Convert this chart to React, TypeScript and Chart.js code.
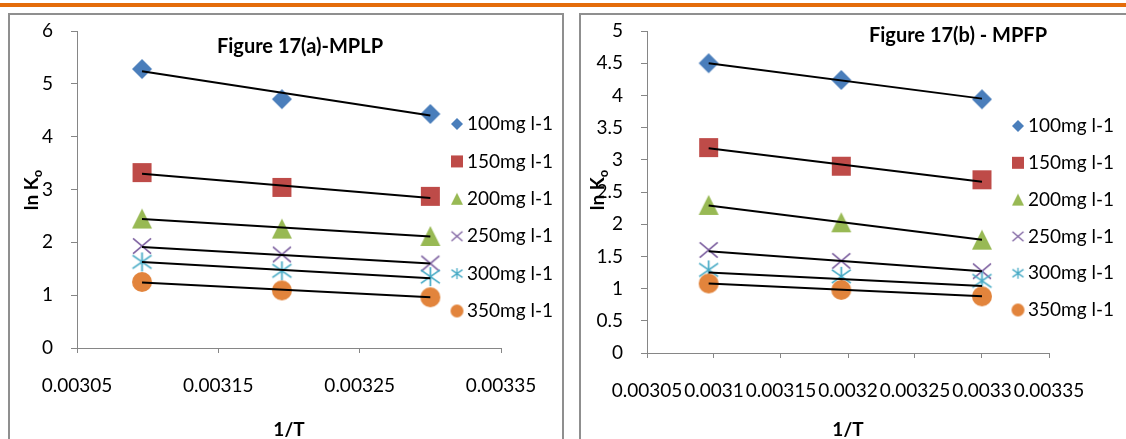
import React, { useEffect, useRef } from 'react';
import { Chart, registerables } from 'chart.js';

Chart.register(...registerables);

const FONT = 'Lato, "Open Sans", sans-serif';

// ---------- data ----------
const seriesNames = ['100mg l-1', '150mg l-1', '200mg l-1', '250mg l-1', '300mg l-1', '350mg l-1'];
const invT = [0.003096, 0.003195, 0.0033];

// Figure 17(a) - MPLP
const mplp100 = [5.28, 4.71, 4.43];
const mplp150 = [3.32, 3.04, 2.87];
const mplp200 = [2.45, 2.26, 2.12];
const mplp250 = [1.93, 1.77, 1.6];
const mplp300 = [1.63, 1.46, 1.35];
const mplp350 = [1.25, 1.09, 0.96];
const mplpTrendStart = [5.24, 3.3, 2.44, 1.91, 1.63, 1.24];
const mplpTrendEnd = [4.4, 2.84, 2.11, 1.6, 1.32, 0.96];

// Figure 17(b) - MPFP
const mpfp100 = [4.5, 4.24, 3.94];
const mpfp150 = [3.19, 2.9, 2.69];
const mpfp200 = [2.3, 2.03, 1.76];
const mpfp250 = [1.6, 1.43, 1.27];
const mpfp300 = [1.29, 1.19, 1.12];
const mpfp350 = [1.08, 0.98, 0.88];
const mpfpTrendStart = [4.5, 3.18, 2.29, 1.58, 1.25, 1.08];
const mpfpTrendEnd = [3.95, 2.66, 1.76, 1.27, 1.04, 0.88];

const xTicksA = [0.00305, 0.00315, 0.00325, 0.00335];
const xLabelsA = ['0.00305', '0.00315', '0.00325', '0.00335'];
const yTicksA = [0, 1, 2, 3, 4, 5, 6];
const yLabelsA = ['0', '1', '2', '3', '4', '5', '6'];

const xTicksB = [0.00305, 0.0031, 0.00315, 0.0032, 0.00325, 0.0033, 0.00335];
const xLabelsB = ['0.00305', '0.0031', '0.00315', '0.0032', '0.00325', '0.0033', '0.00335'];
const yTicksB = [0, 0.5, 1, 1.5, 2, 2.5, 3, 3.5, 4, 4.5, 5];
const yLabelsB = ['0', '0.5', '1', '1.5', '2', '2.5', '3', '3.5', '4', '4.5', '5'];

// ---------- styles ----------
const KINDS = ['diamond', 'square', 'triangle', 'cross', 'star', 'circle'];
const COLORS = ['#4A7EBB', '#BE4B48', '#98B954', '#7D60A0', '#46AAC5', '#E2843C'];
const SIZES = [20, 19, 20, 18, 19, 20];
const LSIZES = [12, 12, 12, 11, 11, 13];
const TICK_SIZE = 19;

function makeMarker(kind: string, size: number, color: string): HTMLCanvasElement {
  const pad = 2;
  const s = Math.ceil(size + pad * 2);
  const c = document.createElement('canvas');
  c.width = s;
  c.height = s;
  const g = c.getContext('2d')!;
  const m = s / 2;
  const h = size / 2;
  g.fillStyle = color;
  g.strokeStyle = color;
  g.lineWidth = Math.max(1.3, size / 11);
  g.lineCap = 'butt';
  g.beginPath();
  switch (kind) {
    case 'diamond':
      g.moveTo(m, m - h);
      g.lineTo(m + h, m);
      g.lineTo(m, m + h);
      g.lineTo(m - h, m);
      g.closePath();
      g.fill();
      break;
    case 'square':
      g.fillRect(m - h, m - h, size, size);
      break;
    case 'triangle':
      g.moveTo(m, m - h);
      g.lineTo(m + h, m + h);
      g.lineTo(m - h, m + h);
      g.closePath();
      g.fill();
      break;
    case 'cross':
      g.moveTo(m - h, m - h * 0.85);
      g.lineTo(m + h, m + h * 0.85);
      g.moveTo(m + h, m - h * 0.85);
      g.lineTo(m - h, m + h * 0.85);
      g.stroke();
      break;
    case 'star':
      g.moveTo(m - h, m - h * 0.7);
      g.lineTo(m + h, m + h * 0.7);
      g.moveTo(m + h, m - h * 0.7);
      g.lineTo(m - h, m + h * 0.7);
      g.moveTo(m, m - h);
      g.lineTo(m, m + h);
      g.stroke();
      break;
    case 'circle':
      g.arc(m, m, h, 0, Math.PI * 2);
      g.fill();
      break;
  }
  return c;
}

type PanelProps = {
  left: number;
  width: number;
  area: { left: number; right: number; top: number; bottom: number };
  xTicks: number[];
  xLabels: string[];
  yTicks: number[];
  yLabels: string[];
  series: number[][];
  trendStart: number[];
  trendEnd: number[];
  title: string;
  titlePos: [number, number];
  xTitlePos: [number, number];
  yTitlePos: [number, number];
  legendMarkerX: number;
  legendTextX: number;
  legendTop: number;
  legendStep: number;
};

function ChartPanel(p: PanelProps) {
  const ref = useRef<HTMLCanvasElement>(null);
  useEffect(() => {
    const canvas = ref.current!;
    const H = 439;
    const markers = KINDS.map((k, i) => makeMarker(k, SIZES[i], COLORS[i]));
    const legendMarkers = KINDS.map((k, i) => makeMarker(k, LSIZES[i], COLORS[i]));
    const datasets: any[] = [];
    p.series.forEach((vals, i) => {
      datasets.push({
        label: seriesNames[i],
        data: invT.map((x, j) => ({ x, y: vals[j] })),
        pointStyle: markers[i],
        pointRadius: 10,
        showLine: false,
        order: 10 - i,
      });
    });
    p.series.forEach((_, i) => {
      datasets.push({
        label: 'trend',
        data: [
          { x: invT[0], y: p.trendStart[i] },
          { x: invT[invT.length - 1], y: p.trendEnd[i] },
        ],
        showLine: true,
        borderColor: '#000',
        borderWidth: 2,
        pointRadius: 0,
        order: 0,
      });
    });
    const L = p.left;
    const overlay = {
      id: 'overlay',
      afterDraw(chart: any) {
        const ctx = chart.ctx as CanvasRenderingContext2D;
        ctx.save();
        ctx.fillStyle = '#000';
        // title
        ctx.font = `bold 20px ${FONT}`;
        ctx.textAlign = 'center';
        ctx.textBaseline = 'middle';
        ctx.fillText(p.title, p.titlePos[0] - L, p.titlePos[1]);
        // x title
        ctx.font = `bold 19px ${FONT}`;
        ctx.fillText('1/T', p.xTitlePos[0] - L, p.xTitlePos[1]);
        // y title with subscript
        ctx.save();
        ctx.translate(p.yTitlePos[0] - L, p.yTitlePos[1]);
        ctx.rotate(-Math.PI / 2);
        ctx.font = `bold 19px ${FONT}`;
        const main = 'ln K';
        const wMain = ctx.measureText(main).width;
        ctx.font = `bold 13px ${FONT}`;
        const wSub = ctx.measureText('o').width;
        const total = wMain + wSub;
        ctx.textAlign = 'left';
        ctx.textBaseline = 'middle';
        ctx.font = `bold 19px ${FONT}`;
        ctx.fillText(main, -total / 2, 0);
        ctx.font = `bold 13px ${FONT}`;
        ctx.fillText('o', -total / 2 + wMain, 6);
        ctx.restore();
        // legend
        ctx.font = `${TICK_SIZE}px ${FONT}`;
        ctx.textAlign = 'left';
        ctx.textBaseline = 'middle';
        seriesNames.forEach((name, i) => {
          const y = p.legendTop + p.legendStep * i;
          const mk = legendMarkers[i];
          ctx.drawImage(mk, p.legendMarkerX - L - mk.width / 2, y - mk.height / 2);
          ctx.fillText(name, p.legendTextX - L, y);
        });
        ctx.restore();
      },
    };
    const axisColor = '#868686';
    const chart = new Chart(canvas, {
      type: 'scatter',
      data: { datasets },
      options: {
        responsive: false,
        animation: false,
        events: [],
        layout: {
          padding: {
            left: p.area.left - L - 60,
            right: p.width - (p.area.right - L),
            top: p.area.top,
            bottom: H - p.area.bottom - 60,
          },
        },
        plugins: { legend: { display: false }, tooltip: { enabled: false }, title: { display: false } },
        scales: {
          x: {
            type: 'linear',
            position: 'bottom',
            min: p.xTicks[0],
            max: p.xTicks[p.xTicks.length - 1],
            afterBuildTicks: (s: any) => {
              s.ticks = p.xTicks.map((v) => ({ value: v }));
            },
            afterFit: (s: any) => {
              s.height = 60;
            },
            ticks: {
              callback: (_v: any, i: number) => p.xLabels[i],
              color: '#000',
              font: { family: FONT, size: TICK_SIZE },
              padding: 21,
              maxRotation: 0,
              minRotation: 0,
              autoSkip: false,
            },
            grid: { drawOnChartArea: false, drawTicks: true, tickLength: 5, color: axisColor },
            border: { display: true, color: axisColor, width: 1 },
          },
          y: {
            type: 'linear',
            position: 'left',
            min: p.yTicks[0],
            max: p.yTicks[p.yTicks.length - 1],
            afterBuildTicks: (s: any) => {
              s.ticks = p.yTicks.map((v) => ({ value: v }));
            },
            afterFit: (s: any) => {
              s.width = 60;
            },
            ticks: {
              callback: (_v: any, i: number) => p.yLabels[i],
              color: '#000',
              font: { family: FONT, size: TICK_SIZE },
              padding: 18,
              autoSkip: false,
            },
            grid: { drawOnChartArea: false, drawTicks: true, tickLength: 6, color: axisColor },
            border: { display: true, color: axisColor, width: 1 },
          },
        },
      },
      plugins: [overlay],
    } as any);
    return () => chart.destroy();
  }, []);
  return (
    <canvas
      ref={ref}
      width={p.width}
      height={439}
      style={{ position: 'absolute', left: p.left, top: 0, width: p.width, height: 439 }}
    />
  );
}

export default function App() {
  return (
    <div
      style={{
        position: 'absolute',
        left: 0,
        top: 0,
        width: 1126,
        height: 439,
        overflow: 'hidden',
        background: '#fff',
      }}
    >
      <div style={{ position: 'absolute', left: 0, top: 3, width: 1126, height: 4, background: '#E46C0A' }} />
      <div
        style={{
          position: 'absolute',
          left: 8,
          top: 13,
          width: 556,
          height: 500,
          boxSizing: 'border-box',
          border: '2px solid #8f8f8f',
        }}
      />
      <div
        style={{
          position: 'absolute',
          left: 579,
          top: 13,
          width: 600,
          height: 500,
          boxSizing: 'border-box',
          border: '2px solid #8f8f8f',
        }}
      />
      <ChartPanel
        left={0}
        width={570}
        area={{ left: 77, right: 501, top: 31, bottom: 348 }}
        xTicks={xTicksA}
        xLabels={xLabelsA}
        yTicks={yTicksA}
        yLabels={yLabelsA}
        series={[mplp100, mplp150, mplp200, mplp250, mplp300, mplp350]}
        trendStart={mplpTrendStart}
        trendEnd={mplpTrendEnd}
        title="Figure 17(a)-MPLP"
        titlePos={[300, 47]}
        xTitlePos={[289, 430]}
        yTitlePos={[32, 190]}
        legendMarkerX={457}
        legendTextX={467}
        legendTop={124}
        legendStep={37.4}
      />
      <ChartPanel
        left={570}
        width={556}
        area={{ left: 647, right: 1049, top: 31, bottom: 353 }}
        xTicks={xTicksB}
        xLabels={xLabelsB}
        yTicks={yTicksB}
        yLabels={yLabelsB}
        series={[mpfp100, mpfp150, mpfp200, mpfp250, mpfp300, mpfp350]}
        trendStart={mpfpTrendStart}
        trendEnd={mpfpTrendEnd}
        title="Figure 17(b) - MPFP"
        titlePos={[958, 36]}
        xTitlePos={[848, 430]}
        yTitlePos={[598, 190]}
        legendMarkerX={1018}
        legendTextX={1028}
        legendTop={126}
        legendStep={36.8}
      />
    </div>
  );
}
